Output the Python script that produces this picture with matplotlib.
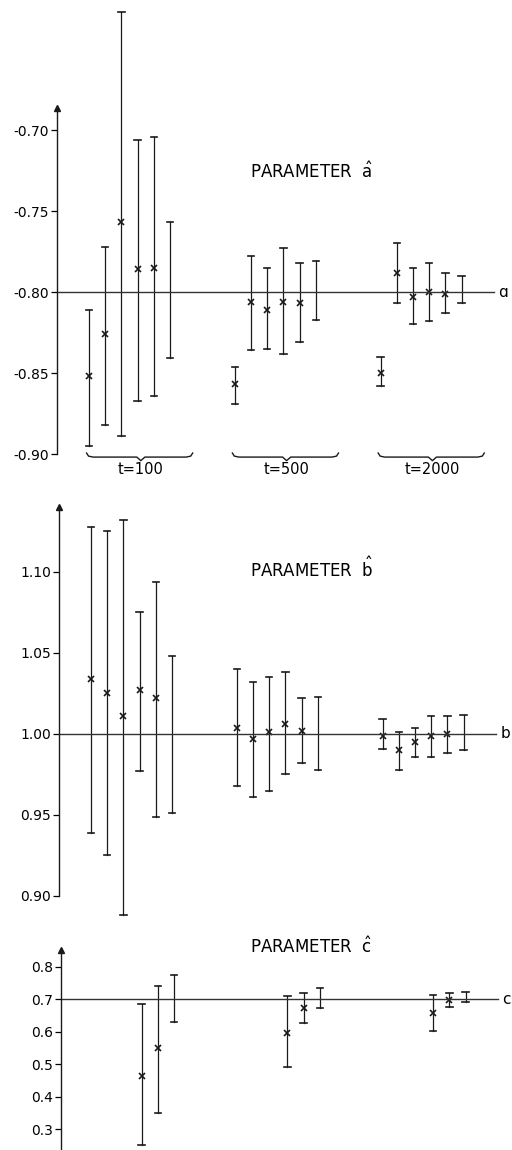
import numpy as np
import matplotlib
matplotlib.use("Agg")
import matplotlib.pyplot as plt

nan = np.nan

# sample sizes of the three simulation groups
groups = ["t=100", "t=500", "t=2000"]

# parameter a: estimates with interval ends (last column: interval only)
a_true = -0.80
a_est = [[-0.852, -0.826, -0.757, -0.786, -0.785, nan],
         [-0.857, -0.806, -0.811, -0.806, -0.807, nan],
         [-0.850, -0.788, -0.803, -0.800, -0.801, nan]]
a_lo = [[-0.895, -0.882, -0.889, -0.867, -0.864, -0.841],
        [-0.869, -0.836, -0.835, -0.838, -0.831, -0.817],
        [-0.858, -0.807, -0.820, -0.818, -0.813, -0.807]]
a_hi = [[-0.811, -0.772, -0.627, -0.706, -0.704, -0.757],
        [-0.846, -0.778, -0.785, -0.773, -0.782, -0.781],
        [-0.840, -0.770, -0.785, -0.782, -0.788, -0.790]]
a_ticks = [-0.70, -0.75, -0.80, -0.85, -0.90]
a_ticklabels = ["-0.70", "-0.75", "-0.80", "-0.85", "-0.90"]

# parameter b
b_true = 1.00
b_est = [[1.034, 1.025, 1.011, 1.027, 1.022, nan],
         [1.004, 0.997, 1.001, 1.006, 1.002, nan],
         [0.999, 0.990, 0.995, 0.999, 1.000, nan]]
b_lo = [[0.939, 0.925, 0.888, 0.977, 0.949, 0.951],
        [0.968, 0.961, 0.965, 0.975, 0.982, 0.978],
        [0.991, 0.978, 0.986, 0.986, 0.988, 0.990]]
b_hi = [[1.128, 1.125, 1.132, 1.075, 1.094, 1.048],
        [1.040, 1.032, 1.035, 1.038, 1.022, 1.023],
        [1.009, 1.001, 1.004, 1.011, 1.011, 1.012]]
b_ticks = [1.10, 1.05, 1.00, 0.95, 0.90]
b_ticklabels = ["1.10", "1.05", "1.00", "0.95", "0.90"]

# parameter c: only estimators 4-6 give c
c_true = 0.70
c_members = [3, 4, 5]
c_est = [[0.463, 0.549, nan],
         [0.595, 0.672, nan],
         [0.657, 0.697, nan]]
c_lo = [[0.251, 0.349, 0.629],
        [0.491, 0.626, 0.672],
        [0.602, 0.675, 0.691]]
c_hi = [[0.685, 0.740, 0.774],
        [0.709, 0.718, 0.734],
        [0.712, 0.718, 0.722]]
c_ticks = [0.8, 0.7, 0.6, 0.5, 0.4, 0.3]
c_ticklabels = ["0.8", "0.7", "0.6", "0.5", "0.4", "0.3"]

W, H = 512, 1150
GROUP_STEP = 9
SLOT = 16.2

plt.rcParams['font.family'] = ['DejaVu Sans']
plt.rcParams['mathtext.fontset'] = 'dejavusans'

fig = plt.figure(figsize=(W / 100, H / 100), dpi=100)


def px_axes(left, top, bottom):
    # axes from pixel edges, width covers slots -2 .. 25
    width = 27 * SLOT
    return fig.add_axes([left / W, (H - bottom) / H, width / W, (bottom - top) / H])


def draw_panel(ax, est, lo, hi, members, true, ylim, ticks, ticklabels, letter):
    ax.set_xlim(-2, 25)
    ax.set_ylim(*ylim)
    for g in range(len(groups)):
        xs = [GROUP_STEP * g + k for k in members]
        for x, e, l, h in zip(xs, est[g], lo[g], hi[g]):
            ax.plot([x, x], [l, h], color='#1a1a1a', lw=0.9, clip_on=False)
            for yc in (l, h):
                ax.plot([x - 0.2, x + 0.2], [yc, yc], color='#1a1a1a', lw=1.2, clip_on=False)
            if not np.isnan(e):
                ax.plot(x, e, marker='x', ms=4, mew=1.2, color='#1a1a1a', clip_on=False)
    ax.plot([-2, 25], [true, true], color='#333333', lw=1.0, clip_on=False)
    ax.annotate(letter, xy=(25, true), xytext=(3, 0), textcoords='offset points',
                fontsize=11, va='center', ha='left')
    for s in ['top', 'right', 'bottom']:
        ax.spines[s].set_visible(False)
    ax.spines['left'].set_linewidth(1.0)
    ax.spines['left'].set_color('#1a1a1a')
    ax.set_xticks([])
    ax.set_yticks(ticks)
    ax.set_yticklabels(ticklabels)
    ax.tick_params(axis='y', direction='out', length=4, width=0.9, pad=1.5, labelsize=10)
    # arrow head on top of the axis
    ax.plot(-2, ylim[1], marker='^', ms=5, color='#1a1a1a', clip_on=False)
    ax.patch.set_alpha(0)


all_members = list(range(6))

ax_a = px_axes(56.6, 108, 454)
draw_panel(ax_a, a_est, a_lo, a_hi, all_members, a_true, (-0.90, -0.6864),
           a_ticks, a_ticklabels, "ɑ")

ax_b = px_axes(58.6, 507, 896)
draw_panel(ax_b, b_est, b_lo, b_hi, all_members, b_true, (0.90, 1.1401),
           b_ticks, b_ticklabels, "b")

ax_c = px_axes(60.6, 950, 1150)
draw_panel(ax_c, c_est, c_lo, c_hi, c_members, c_true, (0.2354, 0.8508),
           c_ticks, c_ticklabels, "c")

# braces under the top panel marking the sample sizes
yb = -0.9019
for g, name in enumerate(groups):
    s = GROUP_STEP * g
    x0, x1, tip = s - 0.15, s + 6.4, s + 3.2
    bx = [x0, x0 + 0.12, x0 + 0.4, tip - 0.25, tip, tip + 0.25, x1 - 0.4, x1 - 0.12, x1]
    by = [yb + 0.0025, yb + 0.0006, yb, yb, yb - 0.0022, yb, yb, yb + 0.0006, yb + 0.0025]
    ax_a.plot(bx, by, color='#1a1a1a', lw=1.0, clip_on=False)
    ax_a.text(tip, yb - 0.0075, name, fontsize=10.5, ha='center', va='center')

fig.text(250 / W, 1 - 178 / H, r"PARAMETER  $\hat{\mathrm{a}}$", fontsize=12, va='baseline')
fig.text(250 / W, 1 - 577 / H, r"PARAMETER  $\hat{\mathrm{b}}$", fontsize=12, va='baseline')
fig.text(250 / W, 1 - 953 / H, r"PARAMETER  $\hat{\mathrm{c}}$", fontsize=12, va='baseline')

fig.savefig("out.png", dpi=100)
